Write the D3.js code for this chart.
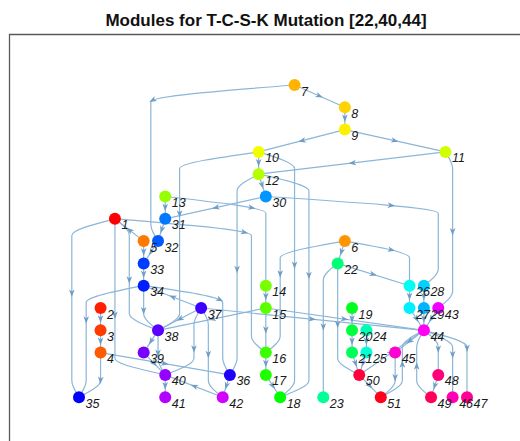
<!DOCTYPE html>
<html>
<head>
<meta charset="utf-8">
<script src="https://cdn.jsdelivr.net/npm/d3@7"></script>
<style>
  body { margin: 0; background: #fff; }
  text { font-family: "Liberation Sans", Arial, sans-serif; }
</style>
</head>
<body>
<svg id="chart" width="520" height="441"></svg>
<script>
// node layout: column (grid units) and layer for nodes 1..51
const nodeCol   = [5, 3, 3, 3, 9, 37, 30, 37, 37, 25, 51, 25, 12, 26, 26, 26, 26, 28, 38, 38,
                   38, 36, 34, 40, 40, 46, 46, 48, 48, 26, 12, 11, 9, 9, 0, 21, 17, 11, 9, 12,
                   12, 20, 50, 48, 44, 52, 54, 50, 49, 39, 42];
const nodeLayer = [7, 11, 12, 13, 8, 8, 1, 2, 3, 4, 4, 5, 6, 10, 11, 13, 14, 15, 11, 12,
                   13, 9, 15, 12, 13, 10, 11, 10, 11, 6, 7, 8, 9, 10, 15, 14, 11, 12, 13, 14,
                   15, 15, 11, 12, 13, 15, 15, 14, 15, 14, 15];

// edges: source, target, and the vertical lane (grid column) long edges run down
const edgeSource = [7, 7, 8, 9, 9, 11, 10, 10, 12, 10, 12, 12, 30, 30, 11, 13, 13, 1, 1, 1,
                    1, 5, 31, 32, 5, 33, 34, 34, 34, 37, 2, 3, 4, 4, 37, 15, 37, 37, 37, 15,
                    38, 38, 39, 40, 42, 36, 14, 15, 16, 17, 6, 6, 6, 22, 22, 22, 19, 20, 24, 21,
                    25, 26, 28, 27, 29, 43, 50, 44, 45, 51, 49, 44, 44, 44, 48, 50];
const edgeTarget = [8, 32, 9, 10, 11, 12, 12, 18, 18, 38, 36, 30, 31, 28, 43, 31, 14, 16, 35, 38,
                    40, 1, 32, 33, 33, 34, 38, 35, 36, 34, 3, 4, 35, 36, 38, 38, 40, 42, 44, 44,
                    39, 40, 40, 41, 40, 42, 15, 16, 17, 18, 16, 22, 26, 26, 50, 23, 20, 21, 25, 50,
                    50, 27, 29, 44, 44, 44, 44, 45, 51, 44, 44, 48, 46, 47, 49, 51];
const edgeLane   = [null, 10, null, null, null, null, null, 30, 32, 14, 22, null, null, 50, 52, null, 26, 24, -1, 7,
                    5, null, null, null, null, null, 9, 1, 20, null, null, null, 3, null, null, null, 16, 18, null, null,
                    null, 11, null, null, null, null, null, 26, null, null, 28, null, 46, null, 36, 34, null, null, null, null,
                    null, null, null, null, null, null, null, null, 44, 45, 47, 50, 52, 54, null, null];

const titleText = "Modules for T-C-S-K Mutation [22,40,44]";

let svg = d3.select("#chart");

let x = d3.scaleLinear().domain([0, 54]).range([79, 467]);
let y = d3.scaleLinear().domain([1, 15]).range([85, 397.2]);
let color = d3.scaleSequential(t => d3.hsl(t * 360, 1, 0.5).toString()).domain([0, nodeCol.length]);

let nodes = nodeCol.map((c, i) => ({id: i + 1, col: c, layer: nodeLayer[i]}));
let edges = edgeSource.map((s, i) => ({s: s, t: edgeTarget[i], lane: edgeLane[i]}));

// axes frame (only the left and top sides fall inside the window)
svg.append("path")
    .attr("d", "M9.5,441 V34.5 H520")
    .attr("fill", "none")
    .attr("stroke", "#5a5a5a")
    .attr("stroke-width", 1.3);

svg.append("text")
    .attr("x", 266)
    .attr("y", 26)
    .attr("text-anchor", "middle")
    .attr("font-size", "17px")
    .attr("font-weight", "bold")
    .attr("fill", "#111")
    .text(titleText);

// edge route, always built top to bottom
function route(e) {
    let s = nodes[e.s - 1], t = nodes[e.t - 1];
    let up = s.layer > t.layer;
    let a = up ? t : s, b = up ? s : t;
    let pts = [[a.col, a.layer]];
    if (e.lane != null) {
        pts.push([e.lane, a.layer + 0.75]);
        if (b.layer - a.layer >= 2) pts.push([e.lane, b.layer - 0.75]);
    }
    pts.push([b.col, b.layer]);
    return {pts: pts, up: up};
}

let line = d3.line()
    .x(d => x(d[0]))
    .y(d => y(d[1]))
    .curve(d3.curveMonotoneY);

let gEdges = svg.append("g");
let gArrows = svg.append("g");

gEdges.selectAll("path")
    .data(edges)
    .enter()
    .append("path")
    .attr("d", d => line(route(d).pts))
    .attr("fill", "none")
    .attr("stroke", "#8bb6d8")
    .attr("stroke-width", 1.2)
    .each(function(d) {
        let L = this.getTotalLength();
        let p = this.getPointAtLength(L / 2);
        let p0 = this.getPointAtLength(L / 2 - 1);
        let p1 = this.getPointAtLength(L / 2 + 1);
        let ang = Math.atan2(p1.y - p0.y, p1.x - p0.x) * 180 / Math.PI;
        if (route(d).up) ang += 180;
        gArrows.append("path")
            .attr("d", "M3.5,0 L-4,-2.8 L-2,0 L-4,2.8 Z")
            .attr("transform", "translate(" + p.x + "," + p.y + ") rotate(" + ang + ")")
            .attr("fill", "#6f9dc6");
    });

svg.append("g")
    .selectAll("circle")
    .data(nodes)
    .enter()
    .append("circle")
    .attr("cx", d => x(d.col))
    .attr("cy", d => y(d.layer))
    .attr("r", 6)
    .attr("fill", d => color(d.id - 1));

svg.append("g")
    .selectAll("text")
    .data(nodes)
    .enter()
    .append("text")
    .attr("x", d => x(d.col) + 6.5)
    .attr("y", d => y(d.layer) + 10.5)
    .attr("font-size", "12.5px")
    .attr("font-style", "italic")
    .attr("fill", "#1a1a1a")
    .text(d => d.id);
</script>
</body>
</html>
